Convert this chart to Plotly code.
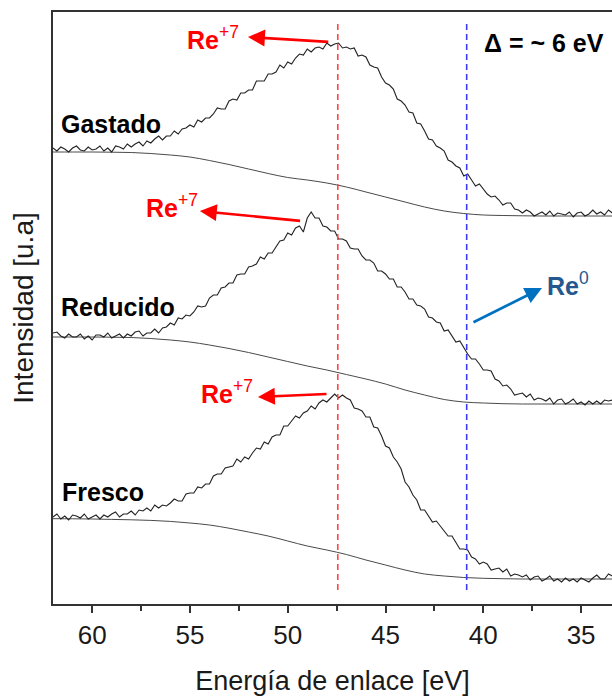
import plotly.graph_objects as go

# ---------------- data ----------------
energy = [round(62.0 - 0.2 * i, 1) for i in range(144)]  # 62.0 ... 33.4 eV

gastado = [456, 453, 457, 455, 452, 456, 458, 454, 453, 457,
           454, 455, 458, 453, 456, 452, 458, 457, 455, 460,
           457, 460, 462, 458, 463, 461, 465, 468, 464, 468,
           468, 473, 470, 475, 476, 479, 477, 484, 482, 486,
           486, 490, 496, 495, 495, 503, 505, 504, 511, 511,
           514, 514, 523, 523, 523, 530, 530, 532, 539, 536,
           542, 540, 546, 550, 549, 555, 552, 556, 557, 555,
           561, 558, 560, 561, 556, 557, 555, 556, 548, 549,
           547, 539, 537, 536, 527, 521, 519, 515, 505, 503,
           499, 492, 491, 481, 480, 473, 465, 464, 458, 456,
           453, 444, 442, 438, 436, 428, 430, 424, 418, 420,
           415, 410, 407, 408, 404, 399, 401, 401, 395, 394,
           391, 394, 392, 388, 390, 392, 389, 393, 388, 391,
           390, 389, 392, 387, 391, 392, 388, 390, 394, 390,
           392, 389, 394, 391]

reducido = [271, 272, 268, 266, 270, 267, 267, 270, 265, 268,
            264, 269, 269, 267, 271, 266, 268, 270, 266, 270,
            268, 272, 273, 268, 271, 271, 275, 271, 276, 277,
            281, 279, 286, 285, 289, 288, 292, 298, 297, 298,
            306, 309, 309, 316, 317, 321, 321, 329, 330, 330,
            337, 338, 340, 347, 345, 351, 351, 357, 363, 364,
            371, 369, 376, 378, 372, 386, 392, 386, 386, 378,
            377, 373, 373, 365, 365, 363, 356, 355, 355, 348,
            344, 344, 341, 333, 333, 330, 325, 325, 317, 317,
            312, 305, 305, 299, 298, 295, 287, 286, 282, 281,
            273, 274, 268, 262, 263, 256, 250, 245, 245, 240,
            234, 234, 233, 225, 223, 218, 219, 215, 209, 210,
            211, 207, 210, 204, 206, 205, 203, 206, 200, 204,
            205, 200, 202, 205, 200, 202, 199, 203, 200, 203,
            200, 204, 203, 204]

fresco = [87, 90, 85, 88, 84, 89, 88, 86, 90, 85,
          87, 89, 85, 89, 87, 90, 92, 87, 90, 90,
          93, 89, 94, 93, 96, 93, 99, 96, 99, 98,
          101, 105, 103, 103, 110, 111, 111, 117, 116, 120,
          120, 128, 130, 130, 136, 137, 138, 145, 142, 147,
          145, 151, 156, 155, 162, 160, 167, 169, 169, 178,
          178, 183, 188, 186, 191, 193, 198, 195, 201, 204,
          202, 206, 210, 206, 209, 206, 204, 196, 195, 193,
          187, 187, 177, 176, 168, 158, 156, 147, 142, 135,
          122, 117, 109, 104, 94, 94, 88, 82, 83, 78,
          72, 68, 68, 62, 55, 55, 54, 47, 45, 40,
          42, 40, 34, 35, 36, 32, 35, 28, 30, 29,
          27, 29, 24, 27, 28, 23, 25, 28, 23, 25,
          22, 26, 23, 25, 22, 26, 24, 22, 26, 29,
          25, 25, 30, 28]

bg_energy = [62, 61, 60, 59, 58, 57, 56, 55, 54, 53, 52, 51, 50, 49, 48,
             47, 46, 45, 44, 43, 42, 41, 40, 39, 38, 37, 36, 35, 34, 33.4]
bg_gastado = [452, 452, 452, 451.8, 451.5, 450.5, 449, 447, 443.5, 439.5,
              435, 430.5, 426.5, 424, 421, 417, 412, 407, 402, 397,
              393, 390.5, 389, 388.5, 388.2, 388, 388, 388, 388, 388]
bg_reducido = [267, 267, 267, 266.8, 266.5, 265.5, 264, 262, 259, 255.5,
               251.5, 247, 242.5, 238, 234, 229.5, 225, 220, 214, 209,
               204.5, 202, 201, 200.3, 200, 200, 200, 200, 200, 200]
bg_fresco = [85.3, 85.2, 85, 84.6, 84.2, 83.6, 82.6, 81, 79, 75.8,
             72, 68, 63, 58, 54, 49.5, 44, 39, 34, 30,
             28, 26.5, 25.7, 25.3, 25, 25, 25, 25, 25, 25]

ref_energies = [47.44, 40.85]          # Re+7 and Re0 reference lines
ref_colors = ["#FF4545", "#3A3AFF"]
ref_span = [14, 581]

x_ticks = [60, 55, 50, 45, 40, 35]
x_range = [62.0, 33.42]
y_range = [0, 592]

sample_labels = ["Gastado", "Reducido", "Fresco"]
sample_label_pos = [(59.04, 480), (58.68, 297), (59.43, 112)]

# Re+7 labels: text position, arrow tail, arrow tip
re7_text = [(53.83, 566), (55.91, 398), (53.10, 212)]
re7_tail = [(47.85, 562), (49.29, 383), (47.94, 210)]
re7_tip = [(52.03, 567), (54.49, 393), (51.52, 207)]

re0_text = (35.67, 320)
re0_tail = (40.58, 281)
re0_tip = (37.0, 316)

delta_text = "Δ = ~ 6 eV"
delta_pos = (36.9, 561)

FONT = "Liberation Sans, Arial, sans-serif"

# ---------------- figure ----------------
fig = go.Figure()

for bg in (bg_gastado, bg_reducido, bg_fresco):
    fig.add_trace(go.Scatter(x=bg_energy, y=bg, mode="lines",
                             line=dict(color="#4a4a4a", width=1, shape="spline"),
                             hoverinfo="skip", showlegend=False))

for sp in (gastado, reducido, fresco):
    fig.add_trace(go.Scatter(x=energy, y=sp, mode="lines",
                             line=dict(color="#222222", width=1.1),
                             showlegend=False))

for e, c in zip(ref_energies, ref_colors):
    fig.add_shape(type="line", xref="x", yref="y", x0=e, x1=e,
                  y0=ref_span[0], y1=ref_span[1],
                  line=dict(color=c, width=1.6, dash="6px,4px"))

ann = []
for name, (ex, iy) in zip(sample_labels, sample_label_pos):
    ann.append(dict(x=ex, y=iy, text=f"<b>{name}</b>", showarrow=False,
                    font=dict(family=FONT, size=25, color="black")))

for (tx, ty), (ax_, ay_), (hx, hy) in zip(re7_text, re7_tail, re7_tip):
    ann.append(dict(x=tx, y=ty, text="<b>Re</b><sup>+7</sup>", showarrow=False,
                    font=dict(family=FONT, size=25, color="#FF0000")))
    ann.append(dict(x=hx, y=hy, ax=ax_, ay=ay_, axref="x", ayref="y",
                    xref="x", yref="y", text="", showarrow=True,
                    arrowhead=2, arrowsize=1.3, arrowwidth=2.6,
                    arrowcolor="#FF0000"))

ann.append(dict(x=re0_text[0], y=re0_text[1], text="<b>Re</b><sup>0</sup>",
                showarrow=False,
                font=dict(family=FONT, size=25, color="#24588F")))
ann.append(dict(x=re0_tip[0], y=re0_tip[1], ax=re0_tail[0], ay=re0_tail[1],
                axref="x", ayref="y", xref="x", yref="y", text="",
                showarrow=True, arrowhead=2, arrowsize=1.3, arrowwidth=2.6,
                arrowcolor="#0070C0"))

ann.append(dict(x=delta_pos[0], y=delta_pos[1], text=f"<b>{delta_text}</b>",
                showarrow=False, font=dict(family=FONT, size=25, color="black")))

fig.update_layout(
    width=612, height=696,
    margin=dict(l=53, r=0, t=12, b=92),
    paper_bgcolor="white", plot_bgcolor="white",
    annotations=ann,
    showlegend=False,
)

fig.update_xaxes(
    range=x_range, tickvals=x_ticks, ticks="outside", ticklen=7, tickwidth=1.5,
    tickcolor="#333", showline=True, mirror=True, linecolor="#333",
    linewidth=1.6, showgrid=False, zeroline=False,
    tickfont=dict(family=FONT, size=26, color="#1a1a1a"),
    minor=dict(ticks="outside", ticklen=5, tickwidth=1.5, tickcolor="#333",
               dtick=2.5, tick0=0, showgrid=False),
    title=dict(text="Energía de enlace [eV]", standoff=26,
               font=dict(family=FONT, size=27, color="#1a1a1a")),
)
fig.update_yaxes(
    range=y_range, showticklabels=False, ticks="", showline=True, mirror=False,
    linecolor="#333", linewidth=1.6, showgrid=False, zeroline=False,
    title=dict(text="Intensidad [u.a]", standoff=9,
               font=dict(family=FONT, size=28, color="#1a1a1a")),
)

fig.write_html("out.html")
